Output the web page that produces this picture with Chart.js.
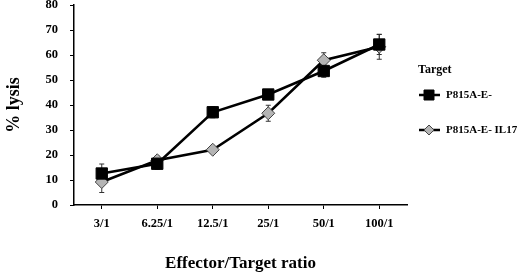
<!DOCTYPE html>
<html>
<head>
<meta charset="utf-8">
<script src="https://cdn.jsdelivr.net/npm/chart.js@4/dist/chart.umd.min.js"></script>
<style>
  html, body { margin: 0; padding: 0; background: #fff; }
  #wrap { width: 520px; height: 278px; }
</style>
</head>
<body>
<div id="wrap"><canvas id="lysisChart"></canvas></div>
<script>
const ratios = ['3/1', '6.25/1', '12.5/1', '25/1', '50/1', '100/1'];
const plainLysis = [12.6, 16.5, 37.1, 44.2, 53.6, 64.2];
const plainErr = [3.8, 2.2, 2.2, 1.5, 2.5, 4.0];
const il17Lysis = [9.2, 17.9, 22.1, 36.7, 57.9, 63.3];
const il17Err = [4.2, 1.6, 0.8, 3.2, 3.0, 5.0];
const yTicks = [0, 10, 20, 30, 40, 50, 60, 70, 80];

const serif = '"Liberation Serif", "DejaVu Serif", serif';

// error bars drawn from the data through the scales
const errorBars = {
    id: 'errorBars',
    beforeDatasetsDraw(chart) {
        const ctx = chart.ctx;
        const xs = chart.scales.x, ys = chart.scales.y;
        const sets = [[plainLysis, plainErr], [il17Lysis, il17Err]];
        ctx.save();
        ctx.strokeStyle = '#333';
        ctx.lineWidth = 1;
        sets.forEach(([vals, errs]) => {
            vals.forEach((v, i) => {
                const x = xs.getPixelForValue(i);
                const top = ys.getPixelForValue(v + errs[i]);
                const bot = ys.getPixelForValue(v - errs[i]);
                ctx.beginPath();
                ctx.moveTo(x, top); ctx.lineTo(x, bot);
                ctx.moveTo(x - 2.5, top); ctx.lineTo(x + 2.5, top);
                ctx.moveTo(x - 2.5, bot); ctx.lineTo(x + 2.5, bot);
                ctx.stroke();
            });
        });
        ctx.restore();
    }
};

// side legend with title, line sample and marker
const sideLegend = {
    id: 'sideLegend',
    afterDraw(chart) {
        const ctx = chart.ctx;
        ctx.save();
        ctx.fillStyle = '#000';
        ctx.font = 'bold 12px ' + serif;
        ctx.textBaseline = 'middle';
        ctx.fillText('Target', 418, 70);
        ctx.font = 'bold 11px ' + serif;
        const rows = [95, 130];
        chart.data.datasets.forEach((ds, i) => {
            const y = rows[i];
            ctx.strokeStyle = '#000';
            ctx.lineWidth = 2.5;
            ctx.beginPath();
            ctx.moveTo(419, y); ctx.lineTo(440, y);
            ctx.stroke();
            ctx.fillStyle = ds.pointBackgroundColor;
            ctx.strokeStyle = ds.pointBorderColor;
            ctx.lineWidth = 1;
            ctx.beginPath();
            if (ds.pointStyle === 'rect') {
                ctx.rect(424, y - 5, 10, 10);
            } else {
                ctx.moveTo(429, y - 5); ctx.lineTo(434, y);
                ctx.lineTo(429, y + 5); ctx.lineTo(424, y);
                ctx.closePath();
            }
            ctx.fill();
            ctx.stroke();
            ctx.fillStyle = '#000';
            ctx.fillText(ds.label, 446, y);
        });
        ctx.restore();
    }
};

new Chart(document.getElementById('lysisChart'), {
    type: 'line',
    data: {
        labels: ratios,
        datasets: [
            {
                label: 'P815A-E-',
                data: plainLysis,
                borderColor: '#000',
                borderWidth: 2.5,
                pointStyle: 'rect',
                pointRadius: 8,
                pointBackgroundColor: '#000',
                pointBorderColor: '#000',
                pointBorderWidth: 1,
                tension: 0
            },
            {
                label: 'P815A-E- IL17',
                data: il17Lysis,
                borderColor: '#000',
                borderWidth: 2.5,
                pointStyle: 'rectRot',
                pointRadius: 6.5,
                pointBackgroundColor: '#b4b4b4',
                pointBorderColor: '#444',
                pointBorderWidth: 1,
                tension: 0
            }
        ]
    },
    options: {
        responsive: true,
        maintainAspectRatio: false,
        animation: false,
        layout: { autoPadding: false, padding: { top: 0, right: 113, left: 0, bottom: 0 } },
        plugins: {
            legend: { display: false },
            tooltip: { enabled: false }
        },
        scales: {
            x: {
                offset: true,
                grid: { display: true, drawOnChartArea: false, offset: false, tickLength: 4, color: '#000', lineWidth: 1 },
                border: { color: '#000', width: 1.5 },
                ticks: { color: '#000', font: { family: serif, weight: 'bold', size: 12.5 }, padding: 7, maxRotation: 0 },
                title: {
                    display: true, text: 'Effector/Target ratio', color: '#000',
                    font: { family: serif, weight: 'bold', size: 17 }, padding: { top: 24 }
                },
                afterFit(scale) { scale.height = 73; }
            },
            y: {
                min: 0, max: 80,
                afterBuildTicks(scale) { scale.ticks = yTicks.map(v => ({ value: v })); },
                grid: { display: true, drawOnChartArea: false, tickLength: 4, color: '#000', lineWidth: 1 },
                border: { color: '#000', width: 1.5 },
                ticks: { color: '#000', font: { family: serif, weight: 'bold', size: 12.5 }, padding: 12 },
                title: {
                    display: true, text: '% lysis', color: '#000',
                    font: { family: serif, weight: 'bold', size: 18 }, padding: { bottom: 6 }
                },
                afterFit(scale) { scale.width = 74; scale.paddingTop = 5; }
            }
        }
    },
    plugins: [errorBars, sideLegend]
});
</script>
</body>
</html>
